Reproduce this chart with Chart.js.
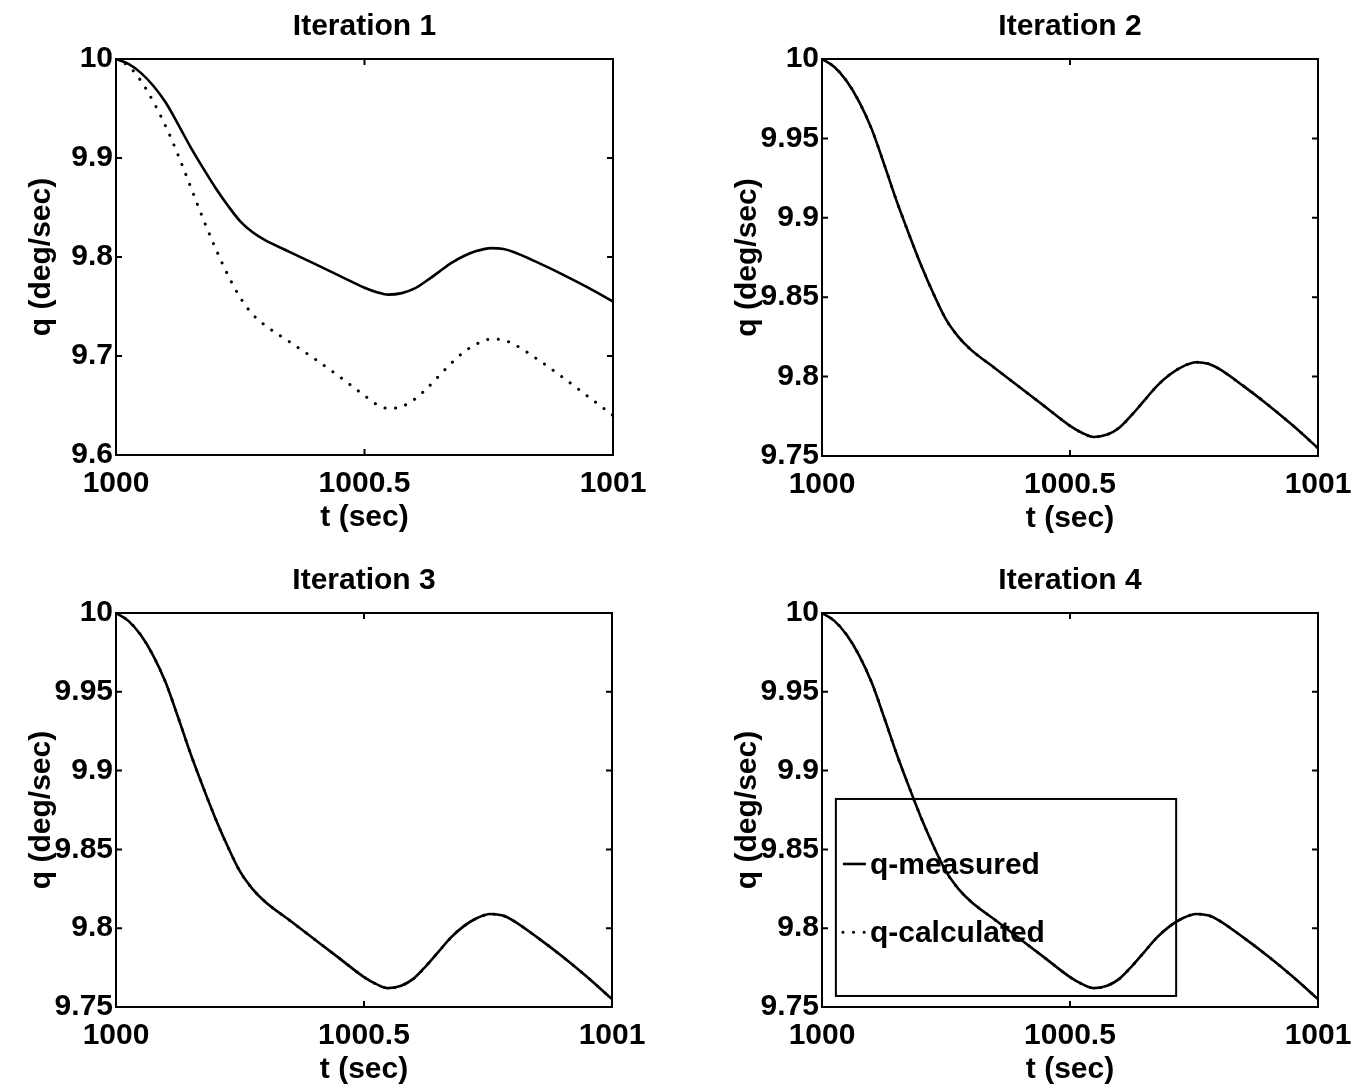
<!DOCTYPE html>
<html>
<head>
<meta charset="utf-8">
<script src="https://cdn.jsdelivr.net/npm/chart.js@4.4.1/dist/chart.umd.min.js"></script>
<style>
  html, body { margin: 0; padding: 0; background: #ffffff; }
  body { width: 1368px; height: 1091px; position: relative; overflow: hidden; }
  .panel { position: absolute; }
  .panel canvas { display: block; }
</style>
</head>
<body>
<div class="panel" style="left:0px;top:0px;width:673px;height:545px"><canvas id="c1"></canvas></div>
<div class="panel" style="left:706px;top:0px;width:672px;height:546px"><canvas id="c2"></canvas></div>
<div class="panel" style="left:0px;top:554px;width:672px;height:543px"><canvas id="c3"></canvas></div>
<div class="panel" style="left:706px;top:554px;width:672px;height:543px"><canvas id="c4"></canvas></div>
<script>
// Sample times (s)
const timeSec = [1000, 1000.025, 1000.05, 1000.075, 1000.1, 1000.125, 1000.15, 1000.175, 1000.2, 1000.225,
  1000.25, 1000.275, 1000.3, 1000.35, 1000.4, 1000.45, 1000.5, 1000.525, 1000.548, 1000.575,
  1000.6, 1000.625, 1000.65, 1000.675, 1000.7, 1000.725, 1000.755, 1000.78, 1000.8, 1000.85,
  1000.9, 1000.95, 1001];

// Measured pitch rate q (deg/sec)
const qMeasured = [10, 9.995, 9.986, 9.973, 9.956, 9.934, 9.911, 9.890, 9.870, 9.852,
  9.836, 9.825, 9.817, 9.805, 9.793, 9.781, 9.769, 9.7645, 9.762, 9.7635,
  9.768, 9.776, 9.785, 9.794, 9.801, 9.806, 9.809, 9.808, 9.805, 9.794,
  9.782, 9.769, 9.755];

// Calculated pitch rate q for each iteration (deg/sec)
const qCalcIter1 = [10, 9.993, 9.978, 9.957, 9.932, 9.903, 9.871, 9.839, 9.809, 9.782,
  9.759, 9.742, 9.731, 9.714, 9.697, 9.679, 9.660, 9.651, 9.647, 9.649,
  9.656, 9.667, 9.680, 9.693, 9.704, 9.712, 9.717, 9.716, 9.712, 9.696,
  9.678, 9.659, 9.640];
const qCalcIter2 = [10, 9.995, 9.986, 9.973, 9.956, 9.934, 9.911, 9.890, 9.870, 9.852,
  9.836, 9.825, 9.817, 9.805, 9.793, 9.781, 9.769, 9.7645, 9.762, 9.7635,
  9.768, 9.776, 9.785, 9.794, 9.801, 9.806, 9.809, 9.808, 9.805, 9.794,
  9.782, 9.769, 9.755];
const qCalcIter3 = [10, 9.995, 9.986, 9.973, 9.956, 9.934, 9.911, 9.890, 9.870, 9.852,
  9.836, 9.825, 9.817, 9.805, 9.793, 9.781, 9.769, 9.7645, 9.762, 9.7635,
  9.768, 9.776, 9.785, 9.794, 9.801, 9.806, 9.809, 9.808, 9.805, 9.794,
  9.782, 9.769, 9.755];
const qCalcIter4 = [10, 9.995, 9.986, 9.973, 9.956, 9.934, 9.911, 9.890, 9.870, 9.852,
  9.836, 9.825, 9.817, 9.805, 9.793, 9.781, 9.769, 9.7645, 9.762, 9.7635,
  9.768, 9.776, 9.785, 9.794, 9.801, 9.806, 9.809, 9.808, 9.805, 9.794,
  9.782, 9.769, 9.755];

// Axis ticks
const timeTicks = [1000, 1000.5, 1001];
const timeTickLabels = ['1000', '1000.5', '1001'];
const qTicksWide = [9.6, 9.7, 9.8, 9.9, 10];
const qTickLabelsWide = ['9.6', '9.7', '9.8', '9.9', '10'];
const qTicksNarrow = [9.75, 9.8, 9.85, 9.9, 9.95, 10];
const qTickLabelsNarrow = ['9.75', '9.8', '9.85', '9.9', '9.95', '10'];

const panelTitles = ['Iteration 1', 'Iteration 2', 'Iteration 3', 'Iteration 4'];
const seriesNames = ['q-measured', 'q-calculated'];

const FONT = "'Liberation Sans', Arial, Helvetica, sans-serif";
const FONT_SIZE = 30;

// Box around the plotting area with inward tick marks on all four sides
const axesFrame = {
  id: 'axesFrame',
  afterDatasetsDraw(chart) {
    const { ctx, chartArea: a, scales: { x, y } } = chart;
    const len = 6;
    ctx.save();
    ctx.strokeStyle = '#000';
    ctx.lineWidth = 2;
    ctx.strokeRect(a.left, a.top, a.right - a.left, a.bottom - a.top);
    ctx.beginPath();
    x.ticks.forEach(t => {
      const px = x.getPixelForValue(t.value);
      ctx.moveTo(px, a.bottom); ctx.lineTo(px, a.bottom - len);
      ctx.moveTo(px, a.top); ctx.lineTo(px, a.top + len);
    });
    y.ticks.forEach(t => {
      const py = y.getPixelForValue(t.value);
      ctx.moveTo(a.left, py); ctx.lineTo(a.left + len, py);
      ctx.moveTo(a.right, py); ctx.lineTo(a.right - len, py);
    });
    ctx.stroke();
    ctx.restore();
  }
};

// Panel heading centred over the plotting area
const panelHeading = {
  id: 'panelHeading',
  afterDraw(chart, args, opts) {
    if (!opts || !opts.text) return;
    const { ctx, chartArea: a } = chart;
    ctx.save();
    ctx.font = 'bold ' + FONT_SIZE + 'px ' + FONT;
    ctx.fillStyle = '#000';
    ctx.textAlign = 'center';
    ctx.textBaseline = 'alphabetic';
    ctx.fillText(opts.text, (a.left + a.right) / 2, a.top - 24);
    ctx.restore();
  }
};

// Framed legend placed inside the plotting area
const boxLegend = {
  id: 'boxLegend',
  afterDraw(chart, args, opts) {
    if (!opts || !opts.display) return;
    const { ctx, chartArea: a } = chart;
    const w = a.right - a.left, h = a.bottom - a.top;
    const L = a.left + opts.box[0] * w, R = a.left + opts.box[1] * w;
    const T = a.top + opts.box[2] * h, B = a.top + opts.box[3] * h;
    ctx.save();
    ctx.strokeStyle = '#000';
    ctx.lineWidth = 2;
    ctx.strokeRect(L, T, R - L, B - T);
    ctx.font = 'bold ' + FONT_SIZE + 'px ' + FONT;
    ctx.fillStyle = '#000';
    ctx.textBaseline = 'middle';
    chart.data.datasets.forEach((ds, i) => {
      const yy = a.top + opts.rows[i] * h;
      ctx.beginPath();
      ctx.lineWidth = ds.borderWidth;
      ctx.lineCap = ds.borderCapStyle || 'butt';
      ctx.setLineDash(ds.borderDash || []);
      ctx.moveTo(L + 7, yy);
      ctx.lineTo(L + 30, yy);
      ctx.stroke();
      ctx.setLineDash([]);
      ctx.fillText(ds.label, L + 34, yy + 2);
    });
    ctx.restore();
  }
};

function makePanel(canvasId, title, calc, yMin, yMax, yTicks, yLabels, legend) {
  const measuredPts = timeSec.map((t, i) => ({ x: t, y: qMeasured[i] }));
  const calcPts = timeSec.map((t, i) => ({ x: t, y: calc[i] }));
  const textFont = { family: FONT, size: FONT_SIZE, weight: 'bold', lineHeight: 1.2 };
  return new Chart(document.getElementById(canvasId), {
    type: 'line',
    data: {
      datasets: [
        { label: seriesNames[0], data: measuredPts, borderColor: '#000', borderWidth: 2.6,
          pointRadius: 0, cubicInterpolationMode: 'monotone', fill: false },
        { label: seriesNames[1], data: calcPts, borderColor: '#000', borderWidth: 3,
          borderDash: [0.1, 10.5], borderCapStyle: 'round',
          pointRadius: 0, cubicInterpolationMode: 'monotone', fill: false }
      ]
    },
    options: {
      responsive: true,
      maintainAspectRatio: false,
      animation: false,
      layout: { padding: { left: 0, right: 60, top: 59, bottom: 0 } },
      plugins: {
        legend: { display: false },
        tooltip: { enabled: false },
        title: { display: false },
        panelHeading: { text: title },
        boxLegend: legend || { display: false }
      },
      scales: {
        x: {
          type: 'linear', min: 1000, max: 1001,
          grid: { display: false, drawTicks: false },
          border: { display: false },
          afterBuildTicks: s => { s.ticks = timeTicks.map(v => ({ value: v })); },
          afterFit: s => { s.height = 90; },
          ticks: {
            color: '#000', padding: 11, font: textFont,
            callback: v => timeTickLabels[timeTicks.indexOf(v)]
          },
          title: {
            display: true, text: 't (sec)', color: '#000', font: textFont,
            padding: { top: 0, bottom: 9 }
          }
        },
        y: {
          type: 'linear', min: yMin, max: yMax,
          grid: { display: false, drawTicks: false },
          border: { display: false },
          afterBuildTicks: s => { s.ticks = yTicks.map(v => ({ value: v })); },
          afterFit: s => { s.width = 116; },
          ticks: {
            color: '#000', padding: 3, font: textFont,
            callback: v => yLabels[yTicks.indexOf(v)]
          },
          title: {
            display: true, text: 'q (deg/sec)', color: '#000', font: textFont,
            padding: { top: 24, bottom: 0 }
          }
        }
      }
    },
    plugins: [axesFrame, panelHeading, boxLegend]
  });
}

makePanel('c1', panelTitles[0], qCalcIter1, 9.6, 10, qTicksWide, qTickLabelsWide);
makePanel('c2', panelTitles[1], qCalcIter2, 9.75, 10, qTicksNarrow, qTickLabelsNarrow);
makePanel('c3', panelTitles[2], qCalcIter3, 9.75, 10, qTicksNarrow, qTickLabelsNarrow);
makePanel('c4', panelTitles[3], qCalcIter4, 9.75, 10, qTicksNarrow, qTickLabelsNarrow,
  { display: true, box: [0.028, 0.714, 0.472, 0.972], rows: [0.637, 0.81] });
</script>
</body>
</html>
